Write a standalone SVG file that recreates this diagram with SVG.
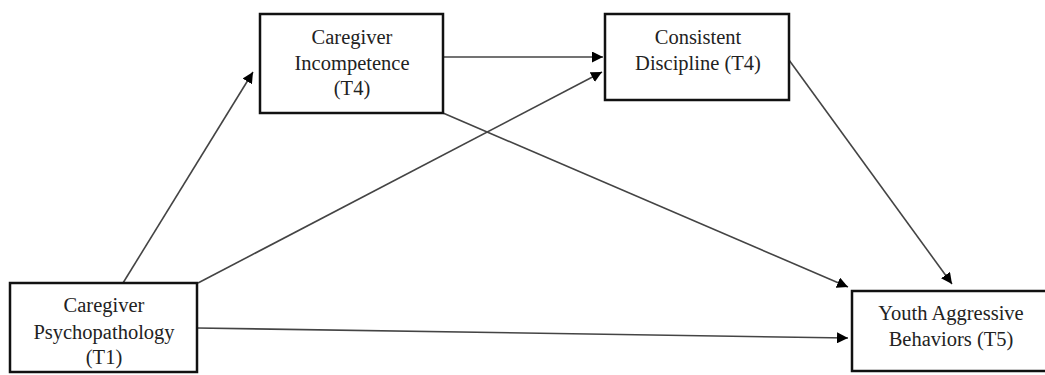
<svg xmlns="http://www.w3.org/2000/svg" width="1045" height="375" viewBox="0 0 1045 375">
<style>
.box{fill:#fff;stroke:#111;stroke-width:2.5}
.lbl{font-family:"Liberation Serif","Times New Roman",serif;font-size:20.5px;fill:#222;text-anchor:middle}
.edge{stroke:#444;stroke-width:1.6;fill:none;marker-end:url(#ah)}
</style>
<defs>
<marker id="ah" viewBox="0 0 10 10" refX="10" refY="5" markerWidth="11" markerHeight="11" markerUnits="userSpaceOnUse" orient="auto">
<path d="M0,0 L10,5 L0,10 z" fill="#000"/>
</marker>
</defs>
<rect width="1045" height="375" fill="#fff"/>
<g id="connectors">
<line class="edge" x1="123" y1="283" x2="253" y2="72"/>
<line class="edge" x1="198" y1="283" x2="602" y2="72"/>
<line class="edge" x1="443" y1="57" x2="603" y2="57"/>
<line class="edge" x1="443" y1="113" x2="848" y2="287"/>
<line class="edge" x1="789" y1="60" x2="952" y2="284"/>
<line class="edge" x1="197" y1="328" x2="848" y2="338"/>
</g>
<g id="psychopathology">
<rect class="box" x="10" y="283" width="187" height="89"/>
<text class="lbl" x="104" y="312">Caregiver</text>
<text class="lbl" x="104" y="339">Psychopathology</text>
<text class="lbl" x="104" y="364">(T1)</text>
</g>
<g id="incompetence">
<rect class="box" x="260" y="14" width="183" height="99"/>
<text class="lbl" x="352" y="44">Caregiver</text>
<text class="lbl" x="352" y="70">Incompetence</text>
<text class="lbl" x="352" y="95">(T4)</text>
</g>
<g id="discipline">
<rect class="box" x="605" y="14" width="184" height="86"/>
<text class="lbl" x="698" y="44">Consistent</text>
<text class="lbl" x="698" y="70">Discipline (T4)</text>
</g>
<g id="youth">
<rect class="box" x="852" y="291" width="196" height="80"/>
<text class="lbl" x="951" y="320">Youth Aggressive</text>
<text class="lbl" x="951" y="346">Behaviors (T5)</text>
</g>
</svg>
